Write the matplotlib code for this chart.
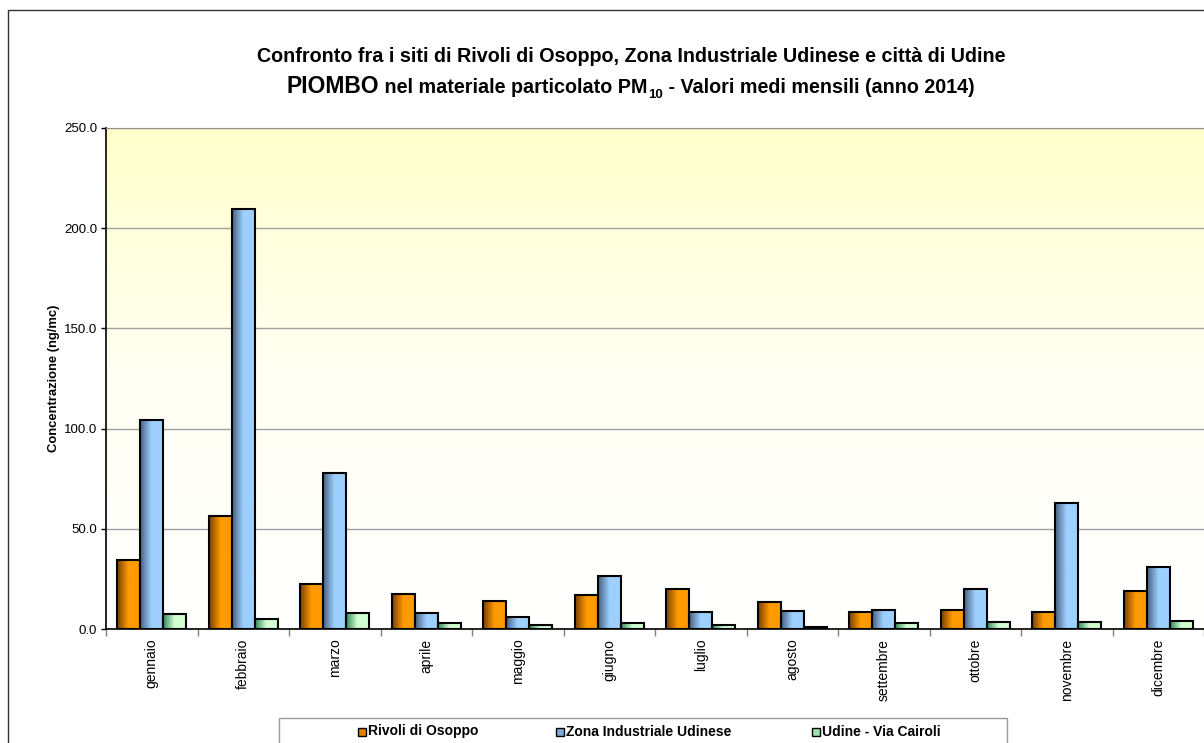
import numpy as np
import matplotlib
matplotlib.use('Agg')
import matplotlib.pyplot as plt
from matplotlib.colors import LinearSegmentedColormap
from matplotlib.patches import Rectangle

plt.rcParams['font.family'] = ['Liberation Sans', 'DejaVu Sans']

mesi = ['gennaio', 'febbraio', 'marzo', 'aprile', 'maggio', 'giugno',
        'luglio', 'agosto', 'settembre', 'ottobre', 'novembre', 'dicembre']
rivoli = [34.2, 56.3, 22.6, 17.3, 14.1, 16.8, 19.8, 13.3, 8.5, 9.6, 8.5, 18.9]
zona = [104.2, 209.6, 77.6, 8.1, 6.2, 26.4, 8.5, 9.0, 9.5, 20.1, 62.9, 30.9]
cairoli = [7.3, 5.0, 8.1, 3.2, 1.9, 3.2, 1.9, 1.2, 3.2, 3.6, 3.6, 3.8]
serie = ['Rivoli di Osoppo', 'Zona Industriale Udinese', 'Udine - Via Cairoli']

# gradient colours (dark left -> light right) and legend colour
gradienti = [('#7a3f00', '#ff9a00'), ('#46607f', '#9dd0ff'), ('#2f8a5c', '#d2ffd2')]
legenda_col = ['#e08000', '#7fa8d8', '#9ee0b0']

W, H = 1204, 743
fig = plt.figure(figsize=(12.04, 7.43), dpi=100)
ax = fig.add_axes([106 / W, 1 - 629 / H, 1 - 106 / W, (629 - 128) / H])

# background gradient of plot area
bg = LinearSegmentedColormap.from_list('bg', ['#ffffff', '#fffff4', '#ffffcc'])
ax.imshow(np.linspace(0, 1, 256).reshape(-1, 1), cmap=bg, origin='lower',
          extent=[0, 1, 0, 1], transform=ax.transAxes, aspect='auto', zorder=0)

x = np.arange(len(mesi))
w = 0.25
for k, valori in enumerate([rivoli, zona, cairoli]):
    cm = LinearSegmentedColormap.from_list('g%d' % k, [gradienti[k][0], gradienti[k][1], gradienti[k][1]])
    pos = x + (k - 1) * w
    for xi, v in zip(pos, valori):
        ax.imshow(np.linspace(0, 1, 64).reshape(1, -1), cmap=cm,
                  extent=[xi - w / 2, xi + w / 2, 0, v], aspect='auto', zorder=2)
    ax.bar(pos, valori, w, facecolor='none', edgecolor='black', linewidth=1.5, zorder=3)

ax.set_xlim(-0.5, 11.5)
ax.set_ylim(0, 250)
ax.set_aspect('auto')

ax.set_yticks([0, 50, 100, 150, 200, 250])
ax.set_yticklabels(['%.1f' % t for t in [0, 50, 100, 150, 200, 250]], fontsize=9.5)
ax.yaxis.grid(True, color='#a0a0a0', linewidth=1)
ax.set_axisbelow(True)
ax.tick_params(axis='y', length=3.5, width=1, pad=3)

ax.set_xticks(x)
ax.set_xticklabels(mesi, rotation=90, fontsize=10)
ax.set_xticks(np.arange(-0.5, 12, 1), minor=True)
ax.tick_params(axis='x', which='major', length=0, pad=7)
ax.tick_params(axis='x', which='minor', length=5, width=1, color='#808080')

ax.spines['right'].set_visible(False)
ax.spines['top'].set_color('#909090')
ax.spines['left'].set_linewidth(1.2)
ax.spines['bottom'].set_linewidth(1.2)

ax.set_ylabel('Concentrazione (ng/mc)', fontsize=9.4, fontweight='bold', labelpad=3)

# outer frame
fig.add_artist(Rectangle((8 / W, -0.05), 1.2, 1.05 - 10 / H, transform=fig.transFigure,
                         fill=False, edgecolor='#333333', linewidth=1))

# title
fig.text(631 / W, 1 - 57 / H, 'Confronto fra i siti di Rivoli di Osoppo, Zona Industriale Udinese e città di Udine',
         ha='center', va='center', fontsize=14.2, fontweight='bold')

fig.canvas.draw()
r = fig.canvas.get_renderer()
y2 = 1 - 93 / H
pezzi = [('PIOMBO', 16.5, 0), (' nel materiale particolato PM', 14.2, 0),
         ('10', 9.5, -5 / H), (' - Valori medi mensili (anno 2014)', 14.2, 0)]
testi = []
for s, fs, dy in pezzi:
    t = fig.text(0, y2 + dy, s, fontsize=fs, fontweight='bold', ha='left', va='baseline')
    testi.append(t)
larg = [t.get_window_extent(r).width for t in testi]
x0 = 630.5 - sum(larg) / 2
for t, lw in zip(testi, larg):
    t.set_x(x0 / W)
    x0 += lw

# legend box drawn by hand, Excel style
fig.add_artist(Rectangle((279 / W, -0.05), (1007 - 279) / W, 0.05 + 1 - 718 / H,
                         transform=fig.transFigure, facecolor='white', edgecolor='#999999', linewidth=1))
leg_x = [358, 556, 812]
for xm, c, s in zip(leg_x, legenda_col, serie):
    fig.add_artist(Rectangle((xm / W, 1 - 735.5 / H), 7.5 / W, 7.5 / H, transform=fig.transFigure,
                             facecolor=c, edgecolor='black', linewidth=1))
    fig.text((xm + 9.5) / W, 1 - 731.5 / H, s, fontsize=10, fontweight='bold', ha='left', va='center')

fig.savefig('out.png', dpi=100)
